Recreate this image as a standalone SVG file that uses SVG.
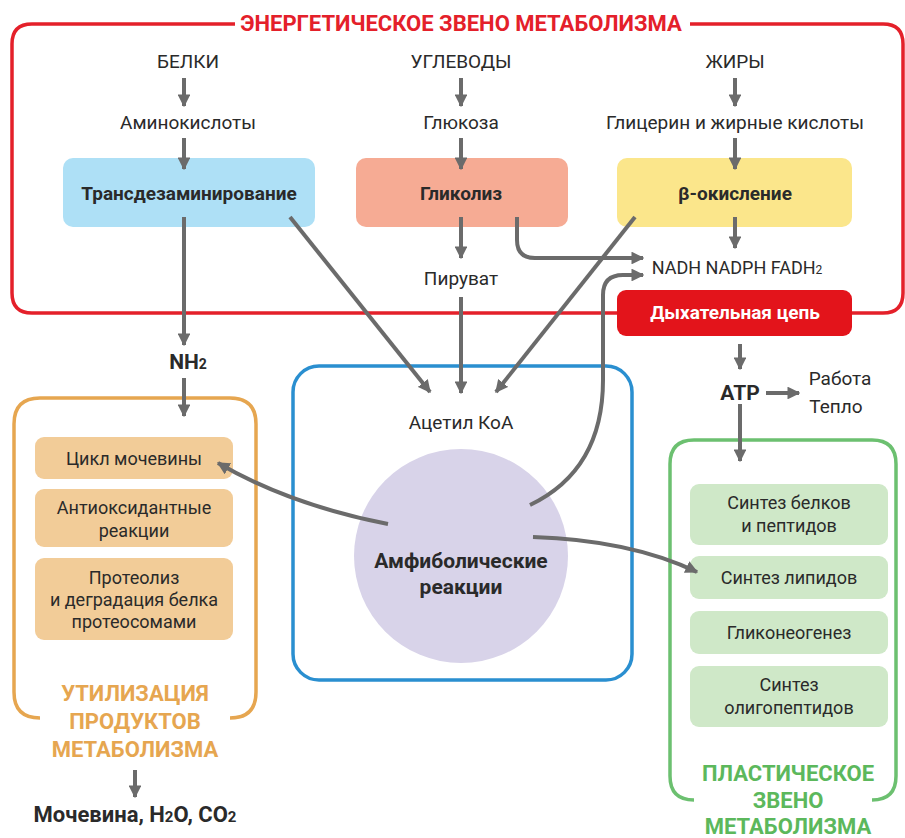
<svg xmlns="http://www.w3.org/2000/svg" width="905" height="838" viewBox="0 0 905 838">
  <defs>
    <marker id="ah" viewBox="0 0 10 10" refX="9" refY="5" markerWidth="3.2" markerHeight="3.2" markerUnits="strokeWidth" orient="auto">
      <path d="M0,0 L10,5 L0,10 Z" fill="#6b6b6b"/>
    </marker>
  </defs>
  <style>
    text { font-family: "Roboto", "Liberation Sans", sans-serif; fill: #2a2a2a; text-anchor: middle; }
    .t { font-size: 19px; }
    .b { font-weight: bold; }
    .lbl { font-size: 18px; }
    .head-red { font-size: 22px; font-weight: bold; fill: #e4202a; }
    .head-org { font-size: 22px; font-weight: bold; fill: #e6a650; }
    .head-grn { font-size: 22px; font-weight: bold; fill: #5cb85c; }
    .arrow { fill: none; stroke: #6b6b6b; stroke-width: 4; marker-end: url(#ah); }
    .orgbox { fill: #f2cc98; }
    .grnbox { fill: #cfe8c8; }
  </style>

  <!-- Energy block frame -->
  <g id="energy-frame">
    <path d="M235,24 H32 Q12,24 12,44 V293 Q12,313 32,313 H620 M850,313 H883 Q903,313 903,293 V44 Q903,24 883,24 H690" fill="none" stroke="#e4202a" stroke-width="3.5"/>
    <text class="head-red" x="461" y="31">ЭНЕРГЕТИЧЕСКОЕ ЗВЕНО МЕТАБОЛИЗМА</text>
  </g>

  <!-- Sources -->
  <g id="proteins"><text class="t" x="188" y="68">БЕЛКИ</text></g>
  <g id="carbs"><text class="t" x="461" y="68">УГЛЕВОДЫ</text></g>
  <g id="fats"><text class="t" x="735" y="68">ЖИРЫ</text></g>
  <g id="aminoacids"><text class="t" x="188" y="129">Аминокислоты</text></g>
  <g id="glucose"><text class="t" x="461" y="129">Глюкоза</text></g>
  <g id="glycerol"><text class="t" x="735" y="129">Глицерин и жирные кислоты</text></g>

  <g id="transdeamination">
    <rect x="63" y="158" width="252" height="69" rx="10" fill="#aee0f6"/>
    <text class="t b" x="189" y="200">Трансдезаминирование</text>
  </g>
  <g id="glycolysis">
    <rect x="356" y="158" width="212" height="69" rx="10" fill="#f6ab94"/>
    <text class="t b" x="461" y="200">Гликолиз</text>
  </g>
  <g id="beta-oxidation">
    <rect x="617" y="158" width="235" height="69" rx="10" fill="#fbe68b"/>
    <text class="t b" x="735" y="200">β-окисление</text>
  </g>

  <g id="pyruvate"><text class="t" x="461" y="285">Пируват</text></g>
  <g id="nadh"><text class="t" x="737" y="274" style="font-size:18px">NADH NADPH FADH<tspan font-size="12">2</tspan></text></g>

  <g id="respiratory-chain">
    <rect x="617" y="290" width="235" height="46" rx="9" fill="#e3141b"/>
    <text class="t b" x="735" y="319" style="fill:#ffffff">Дыхательная цепь</text>
  </g>

  <g id="nh2"><text class="t b" x="188" y="369" style="font-size:21px">NH<tspan font-size="14">2</tspan></text></g>
  <g id="atp"><text class="t b" x="740" y="400" style="font-size:21px">ATP</text></g>
  <g id="work-heat">
    <text class="t" x="840" y="385">Работа</text>
    <text class="t" x="836" y="413">Тепло</text>
  </g>

  <!-- Central amphibolic block -->
  <g id="amphibolic-frame">
    <rect x="293" y="366" width="339" height="314" rx="26" fill="none" stroke="#2a8fd0" stroke-width="3.5"/>
  </g>
  <g id="acetyl-coa"><text class="t" x="461" y="429">Ацетил КоА</text></g>
  <g id="amphibolic">
    <circle cx="461" cy="556" r="107" fill="#d8d3e9"/>
    <text class="t b" x="461" y="568" style="font-size:21px">Амфиболические</text>
    <text class="t b" x="461" y="594" style="font-size:21px">реакции</text>
  </g>

  <!-- Utilisation block -->
  <g id="utilisation-frame">
    <path d="M40,718 Q14,718 14,692 V424 Q14,398 40,398 H230 Q256,398 256,424 V692 Q256,718 230,718" fill="none" stroke="#e6a650" stroke-width="3.5"/>
    <text class="head-org" x="135" y="701">УТИЛИЗАЦИЯ</text>
    <text class="head-org" x="135" y="729">ПРОДУКТОВ</text>
    <text class="head-org" x="135" y="757">МЕТАБОЛИЗМА</text>
  </g>
  <g id="urea-cycle">
    <rect class="orgbox" x="35" y="437" width="198" height="42" rx="9"/>
    <text class="lbl" x="134" y="465">Цикл мочевины</text>
  </g>
  <g id="antioxidant">
    <rect class="orgbox" x="35" y="489" width="198" height="58" rx="9"/>
    <text class="lbl" x="134" y="514">Антиоксидантные</text>
    <text class="lbl" x="134" y="537">реакции</text>
  </g>
  <g id="proteolysis">
    <rect class="orgbox" x="35" y="558" width="198" height="82" rx="9"/>
    <text class="lbl" x="134" y="584">Протеолиз</text>
    <text class="lbl" x="134" y="606">и деградация белка</text>
    <text class="lbl" x="134" y="628">протеосомами</text>
  </g>
  <g id="end-products"><text class="t b" x="135" y="822" style="font-size:22px">Мочевина, H<tspan font-size="15">2</tspan>O, CO<tspan font-size="15">2</tspan></text></g>

  <!-- Plastic block -->
  <g id="plastic-frame">
    <path d="M694,800 Q670,800 670,776 V464 Q670,440 694,440 H872 Q896,440 896,464 V776 Q896,800 872,800" fill="none" stroke="#6cc070" stroke-width="3.5"/>
    <text class="head-grn" x="788" y="781">ПЛАСТИЧЕСКОЕ</text>
    <text class="head-grn" x="788" y="808">ЗВЕНО</text>
    <text class="head-grn" x="788" y="834">МЕТАБОЛИЗМА</text>
  </g>
  <g id="protein-synthesis">
    <rect class="grnbox" x="690" y="484" width="198" height="61" rx="9"/>
    <text class="lbl" x="789" y="509">Синтез белков</text>
    <text class="lbl" x="789" y="532">и пептидов</text>
  </g>
  <g id="lipid-synthesis">
    <rect class="grnbox" x="690" y="556" width="198" height="43" rx="9"/>
    <text class="lbl" x="789" y="584">Синтез липидов</text>
  </g>
  <g id="gluconeogenesis">
    <rect class="grnbox" x="690" y="611" width="198" height="43" rx="9"/>
    <text class="lbl" x="789" y="639">Гликонеогенез</text>
  </g>
  <g id="oligopeptide-synthesis">
    <rect class="grnbox" x="690" y="666" width="198" height="61" rx="9"/>
    <text class="lbl" x="789" y="691">Синтез</text>
    <text class="lbl" x="789" y="714">олигопептидов</text>
  </g>

  <!-- Connectors -->
  <g id="connectors">
    <path class="arrow" d="M184,78 V106"/>
    <path class="arrow" d="M461,78 V106"/>
    <path class="arrow" d="M735,78 V106"/>
    <path class="arrow" d="M184,138 V169"/>
    <path class="arrow" d="M461,138 V169"/>
    <path class="arrow" d="M735,138 V169"/>
    <path class="arrow" d="M184,217 V345"/>
    <path class="arrow" d="M184,378 V416"/>
    <path class="arrow" d="M290,217 L430,392"/>
    <path class="arrow" d="M461,217 V258"/>
    <path class="arrow" d="M461,297 V393"/>
    <path class="arrow" d="M635,217 L496,392"/>
    <path class="arrow" d="M517,217 V240 Q517,258 535,258 H643"/>
    <path class="arrow" d="M735,217 V248"/>
    <path class="arrow" d="M530,505 Q603,470 603,380 V295 Q603,275 623,275 H643"/>
    <path class="arrow" d="M740,344 V369"/>
    <path class="arrow" d="M766,393 H799"/>
    <path class="arrow" d="M740,404 V461"/>
    <path class="arrow" d="M388,524 Q290,505 218,463"/>
    <path class="arrow" d="M533,537 Q630,540 697,572"/>
    <path class="arrow" d="M135,770 V797"/>
  </g>
</svg>
